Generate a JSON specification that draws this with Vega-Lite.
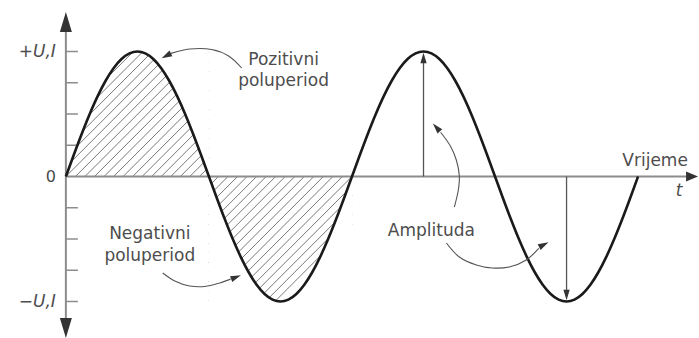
{
  "$schema": "https://vega.github.io/schema/vega-lite/v6.json",
  "width": 699,
  "height": 338,
  "autosize": {"type": "fit", "contains": "padding"},
  "padding": 0,
  "background": "white",
  "config": {"view": {"stroke": null}, "axis": {"disable": true}},
  "datasets": {
    "wave": [
      {"x":0,"y":0},{"x":10,"y":0.1736},{"x":20,"y":0.342},{"x":30,"y":0.5},{"x":40,"y":0.6428},{"x":50,"y":0.766},{"x":60,"y":0.866},{"x":70,"y":0.9397},{"x":80,"y":0.9848},{"x":90,"y":1},
      {"x":100,"y":0.9848},{"x":110,"y":0.9397},{"x":120,"y":0.866},{"x":130,"y":0.766},{"x":140,"y":0.6428},{"x":150,"y":0.5},{"x":160,"y":0.342},{"x":170,"y":0.1736},{"x":180,"y":0},
      {"x":190,"y":-0.1736},{"x":200,"y":-0.342},{"x":210,"y":-0.5},{"x":220,"y":-0.6428},{"x":230,"y":-0.766},{"x":240,"y":-0.866},{"x":250,"y":-0.9397},{"x":260,"y":-0.9848},{"x":270,"y":-1},
      {"x":280,"y":-0.9848},{"x":290,"y":-0.9397},{"x":300,"y":-0.866},{"x":310,"y":-0.766},{"x":320,"y":-0.6428},{"x":330,"y":-0.5},{"x":340,"y":-0.342},{"x":350,"y":-0.1736},{"x":360,"y":0},
      {"x":370,"y":0.1736},{"x":380,"y":0.342},{"x":390,"y":0.5},{"x":400,"y":0.6428},{"x":410,"y":0.766},{"x":420,"y":0.866},{"x":430,"y":0.9397},{"x":440,"y":0.9848},{"x":450,"y":1},
      {"x":460,"y":0.9848},{"x":470,"y":0.9397},{"x":480,"y":0.866},{"x":490,"y":0.766},{"x":500,"y":0.6428},{"x":510,"y":0.5},{"x":520,"y":0.342},{"x":530,"y":0.1736},{"x":540,"y":0},
      {"x":550,"y":-0.1736},{"x":560,"y":-0.342},{"x":570,"y":-0.5},{"x":580,"y":-0.6428},{"x":590,"y":-0.766},{"x":600,"y":-0.866},{"x":610,"y":-0.9397},{"x":620,"y":-0.9848},{"x":630,"y":-1},
      {"x":640,"y":-0.9848},{"x":650,"y":-0.9397},{"x":660,"y":-0.866},{"x":670,"y":-0.766},{"x":680,"y":-0.6428},{"x":690,"y":-0.5},{"x":700,"y":-0.342},{"x":710,"y":-0.1736},{"x":720,"y":0}
    ],
    "hatch": [
      {"x":0,"y":0.688,"x2":49,"y2":1},{"x":0,"y":0.611,"x2":61,"y2":1},{"x":0,"y":0.535,"x2":73,"y2":1},{"x":0,"y":0.459,"x2":85,"y2":1},
      {"x":0,"y":0.382,"x2":97,"y2":1},{"x":0,"y":0.306,"x2":109,"y2":1},{"x":0,"y":0.229,"x2":121,"y2":1},{"x":0,"y":0.153,"x2":133,"y2":1},
      {"x":0,"y":0.076,"x2":145,"y2":1},{"x":0,"y":0,"x2":157,"y2":1},{"x":12,"y":0,"x2":169,"y2":1},{"x":24,"y":0,"x2":180,"y2":0.994},
      {"x":36,"y":0,"x2":180,"y2":0.917},{"x":48,"y":0,"x2":180,"y2":0.841},{"x":60,"y":0,"x2":180,"y2":0.764},{"x":72,"y":0,"x2":180,"y2":0.688},
      {"x":84,"y":0,"x2":180,"y2":0.611},{"x":96,"y":0,"x2":180,"y2":0.535},{"x":108,"y":0,"x2":180,"y2":0.459},{"x":120,"y":0,"x2":180,"y2":0.382},
      {"x":132,"y":0,"x2":180,"y2":0.306},{"x":144,"y":0,"x2":180,"y2":0.229},{"x":156,"y":0,"x2":180,"y2":0.153},{"x":168,"y":0,"x2":180,"y2":0.076},
      {"x":180,"y":-0.076,"x2":192,"y2":0},{"x":180,"y":-0.153,"x2":204,"y2":0},{"x":180,"y":-0.229,"x2":216,"y2":0},{"x":180,"y":-0.306,"x2":228,"y2":0},
      {"x":180,"y":-0.382,"x2":240,"y2":0},{"x":180,"y":-0.459,"x2":252,"y2":0},{"x":180,"y":-0.535,"x2":264,"y2":0},{"x":180,"y":-0.611,"x2":276,"y2":0},
      {"x":180,"y":-0.688,"x2":288,"y2":0},{"x":180,"y":-0.764,"x2":300,"y2":0},{"x":180,"y":-0.841,"x2":312,"y2":0},{"x":180,"y":-0.917,"x2":324,"y2":0},
      {"x":180,"y":-0.994,"x2":336,"y2":0},{"x":191,"y":-1,"x2":348,"y2":0},{"x":203,"y":-1,"x2":360,"y2":0},{"x":215,"y":-1,"x2":360,"y2":-0.076},
      {"x":227,"y":-1,"x2":360,"y2":-0.153},{"x":239,"y":-1,"x2":360,"y2":-0.229},{"x":251,"y":-1,"x2":360,"y2":-0.306},{"x":263,"y":-1,"x2":360,"y2":-0.382}
    ],
    "annot": [
      {"g":1,"o":1,"x":221.2,"y":0.868},{"g":1,"o":2,"x":204.8,"y":0.964},{"g":1,"o":3,"x":183.5,"y":1.016},{"g":1,"o":4,"x":155.8,"y":1.02},{"g":1,"o":5,"x":132,"y":0.985},
      {"g":2,"o":1,"x":121.9,"y":-0.772},{"g":2,"o":2,"x":137,"y":-0.836},{"g":2,"o":3,"x":155.8,"y":-0.876},{"g":2,"o":4,"x":174.7,"y":-0.88},{"g":2,"o":5,"x":193.5,"y":-0.852},{"g":2,"o":6,"x":207.2,"y":-0.821},
      {"g":3,"o":1,"x":488.8,"y":-0.244},{"g":3,"o":2,"x":493.8,"y":-0.108},{"g":3,"o":3,"x":495.1,"y":0.004},{"g":3,"o":4,"x":491.3,"y":0.132},{"g":3,"o":5,"x":483.8,"y":0.244},{"g":3,"o":6,"x":471.5,"y":0.354},
      {"g":4,"o":1,"x":478.8,"y":-0.532},{"g":4,"o":2,"x":495.1,"y":-0.644},{"g":4,"o":3,"x":516.5,"y":-0.708},{"g":4,"o":4,"x":536.6,"y":-0.732},{"g":4,"o":5,"x":557.9,"y":-0.724},{"g":4,"o":6,"x":579.3,"y":-0.668},{"g":4,"o":7,"x":595,"y":-0.575}
    ],
    "heads": [
      {"x":126.3,"y":0.966,"a":153},
      {"x":214.1,"y":-0.806,"a":339},
      {"x":466.2,"y":0.392,"a":228},
      {"x":601.4,"y":-0.546,"a":333},
      {"x":450,"y":0.948,"a":270},
      {"x":630,"y":-0.948,"a":90}
    ]
  },
  "encoding": {
    "x": {"field": "x", "type": "quantitative", "scale": {"domain": [-82.9, 795.4], "nice": false, "zero": false}, "axis": null},
    "y": {"field": "y", "type": "quantitative", "scale": {"domain": [-1.292, 1.412], "nice": false, "zero": false}, "axis": null}
  },
  "layer": [
    {
      "data": {"name": "hatch"},
      "mark": {"type": "rule", "stroke": "#555555", "strokeWidth": 0.8},
      "encoding": {"x2": {"field": "x2"}, "y2": {"field": "y2"}}
    },
    {
      "data": {"name": "wave"},
      "transform": [{"filter": "datum.x <= 180"}],
      "mark": {"type": "area", "fill": "white", "interpolate": "monotone"},
      "encoding": {"y2": {"datum": 1.04}}
    },
    {
      "data": {"name": "wave"},
      "transform": [{"filter": "datum.x >= 180 && datum.x <= 360"}],
      "mark": {"type": "area", "fill": "white", "interpolate": "monotone"},
      "encoding": {"y2": {"datum": -1.04}}
    },
    {
      "data": {"values": [
        {"x": 0, "y": 1.2, "x2": 0, "y2": -1.15},
        {"x": 0, "y": 0, "x2": 782, "y2": 0}
      ]},
      "mark": {"type": "rule", "stroke": "#8c8c8c", "strokeWidth": 2},
      "encoding": {"x2": {"field": "x2"}, "y2": {"field": "y2"}}
    },
    {
      "data": {"values": [
        {"x": 0, "x2": 15.1, "y": 1}, {"x": 0, "x2": 15.1, "y": 0.75}, {"x": 0, "x2": 15.1, "y": 0.5}, {"x": 0, "x2": 15.1, "y": 0.25},
        {"x": 0, "x2": 15.1, "y": -0.25}, {"x": 0, "x2": 15.1, "y": -0.5}, {"x": 0, "x2": 15.1, "y": -0.75}, {"x": 0, "x2": 15.1, "y": -1}
      ]},
      "mark": {"type": "rule", "stroke": "#8c8c8c", "strokeWidth": 1.5},
      "encoding": {"x2": {"field": "x2"}}
    },
    {
      "data": {"name": "wave"},
      "mark": {"type": "line", "stroke": "#1a1a1a", "strokeWidth": 2.6, "interpolate": "monotone"}
    },
    {
      "data": {"values": [
        {"x": 450, "y": 0, "y2": 0.93},
        {"x": 630, "y": 0, "y2": -0.93}
      ]},
      "mark": {"type": "rule", "stroke": "#555555", "strokeWidth": 1.3},
      "encoding": {"y2": {"field": "y2"}}
    },
    {
      "data": {"name": "annot"},
      "mark": {"type": "line", "stroke": "#555555", "strokeWidth": 1.1, "interpolate": "catmull-rom"},
      "encoding": {"detail": {"field": "g"}, "order": {"field": "o"}}
    },
    {
      "data": {"name": "heads"},
      "mark": {"type": "point", "shape": "M1,0L-1,-0.6L-1,0.6Z", "filled": true, "fill": "#333333", "opacity": 1, "strokeWidth": 0, "size": 110},
      "encoding": {"angle": {"field": "a", "type": "quantitative", "scale": null}}
    },
    {
      "data": {"values": [
        {"x": 0, "y": 1.236, "a": 270},
        {"x": 0, "y": -1.212, "a": 90}
      ]},
      "mark": {"type": "point", "shape": "M1,0L-1,-0.6L-1,0.6Z", "filled": true, "fill": "#333333", "opacity": 1, "strokeWidth": 0, "size": 400},
      "encoding": {"angle": {"field": "a", "type": "quantitative", "scale": null}}
    },
    {
      "data": {"values": [{"x": 787.9, "y": 0}]},
      "mark": {"type": "point", "shape": "M1,0L-1,-0.85L-1,0.85Z", "filled": true, "fill": "#333333", "opacity": 1, "strokeWidth": 0, "size": 144}
    },
    {
      "data": {"values": [
        {"x": 273.9, "y": 0.892, "label": "Pozitivni"},
        {"x": 273.9, "y": 0.724, "label": "poluperiod"},
        {"x": 105.6, "y": -0.5, "label": "Negativni"},
        {"x": 105.6, "y": -0.676, "label": "poluperiod"},
        {"x": 459.9, "y": -0.476, "label": "Amplituda"},
        {"x": 741.4, "y": 0.084, "label": "Vrijeme"}
      ]},
      "mark": {"type": "text", "font": "DejaVu Sans", "fontSize": 17, "fill": "#4d4d4d", "align": "center", "baseline": "alphabetic"},
      "encoding": {"text": {"field": "label"}}
    },
    {
      "data": {"values": [{"x": -12.6, "y": 0, "label": "0"}]},
      "mark": {"type": "text", "font": "DejaVu Sans", "fontSize": 16, "fill": "#4d4d4d", "align": "right", "baseline": "middle"},
      "encoding": {"text": {"field": "label"}}
    },
    {
      "data": {"values": [
        {"x": -12.6, "y": 1.0, "label": "+U,I"},
        {"x": -12.6, "y": -1.0, "label": "−U,I"}
      ]},
      "mark": {"type": "text", "font": "DejaVu Sans", "fontSize": 17, "fontStyle": "italic", "fill": "#4d4d4d", "align": "right", "baseline": "middle"},
      "encoding": {"text": {"field": "label"}}
    },
    {
      "data": {"values": [{"x": 771.6, "y": -0.156, "label": "t"}]},
      "mark": {"type": "text", "font": "DejaVu Sans", "fontSize": 17, "fontStyle": "italic", "fill": "#4d4d4d", "align": "center", "baseline": "alphabetic"},
      "encoding": {"text": {"field": "label"}}
    }
  ]
}
